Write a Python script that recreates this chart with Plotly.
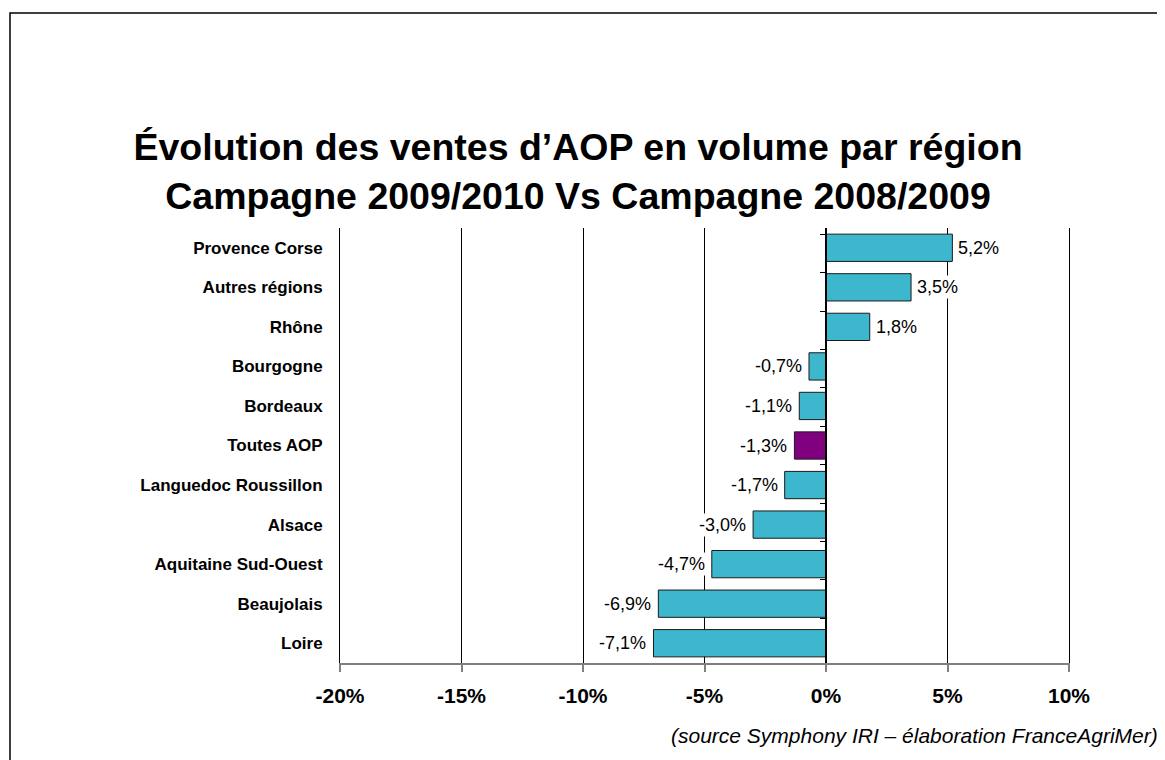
import plotly.graph_objects as go

regions = ["Provence Corse", "Autres régions", "Rhône", "Bourgogne", "Bordeaux",
           "Toutes AOP", "Languedoc Roussillon", "Alsace", "Aquitaine Sud-Ouest",
           "Beaujolais", "Loire"]
evolution = [5.2, 3.5, 1.8, -0.7, -1.1, -1.3, -1.7, -3.0, -4.7, -6.9, -7.1]
tick_values = [-20, -15, -10, -5, 0, 5, 10]
tick_labels = ["-20%", "-15%", "-10%", "-5%", "0%", "5%", "10%"]

teal = "#3DB7CE"
purple = "#800080"
colors = [purple if r == "Toutes AOP" else teal for r in regions]

FONT = "Liberation Sans, Arial, sans-serif"

# page body has an 8px margin: layout positions below are shifted to compensate
L, R, T, B = 332, 1061, 220, 655
PW, PH = R - L, B - T

fig = go.Figure()
fig.add_trace(go.Bar(
    x=evolution, y=regions, orientation="h",
    marker=dict(color=colors, line=dict(color="#1a1a1a", width=1)),
    width=0.69, hoverinfo="x+y", showlegend=False,
))
# invisible trace carrying the category axis drawn at 0%
fig.add_trace(go.Scatter(
    x=evolution, y=regions, yaxis="y2", mode="markers",
    marker=dict(opacity=0), hoverinfo="skip", showlegend=False,
))

annotations = []
for r, v in zip(regions, evolution):
    annotations.append(dict(
        x=v, y=r, xref="x", yref="y",
        text=f"{v:.1f}%".replace(".", ","),
        showarrow=False,
        xanchor="left" if v >= 0 else "right",
        xshift=4 if v >= 0 else -5,
        bgcolor="white", borderpad=1,
        font=dict(family=FONT, size=18, color="black"),
    ))

annotations.append(dict(
    text="<i>(source Symphony IRI – élaboration FranceAgriMer)</i>",
    xref="paper", yref="paper", x=(1152 - L) / PW, y=(B - 727) / PH,
    xanchor="right", yanchor="middle", showarrow=False,
    font=dict(family=FONT, size=21, color="black"),
))

fig.update_layout(
    width=1165, height=760,
    margin=dict(l=L, r=1165 - R, t=T, b=760 - B),
    paper_bgcolor="white", plot_bgcolor="white",
    title=dict(
        text="<b>Évolution des ventes d’AOP en volume par région<br>Campagne 2009/2010 Vs Campagne 2008/2009</b>",
        x=570 / 1165, xref="container", xanchor="center",
        y=1 - 152 / 760, yref="container", yanchor="middle",
        font=dict(family=FONT, size=37.5, color="black"),
    ),
    xaxis=dict(
        range=[-20, 10], tickvals=tick_values, ticktext=tick_labels,
        showgrid=True, gridcolor="black", gridwidth=1,
        zeroline=False,
        showline=True, linecolor="#808080", linewidth=2,
        ticks="outside", ticklen=7, tickcolor="#808080", tickwidth=1.5,
        tickfont=dict(family=FONT, size=21, color="black", weight="bold"),
        ticklabelstandoff=6,
        domain=[0, 1],
    ),
    yaxis=dict(
        type="category", categoryorder="array", categoryarray=regions,
        autorange="reversed", showgrid=False, zeroline=False,
        showline=True, mirror=True, linecolor="black", linewidth=1,
        ticks="",
        tickfont=dict(family=FONT, size=17, color="black", weight="bold"),
        ticklabelstandoff=13,
    ),
    yaxis2=dict(
        type="category", categoryorder="array", categoryarray=regions,
        autorange="reversed", overlaying="y", anchor="free",
        position=2 / 3, side="left",
        showline=True, linecolor="black", linewidth=1.5,
        ticks="outside", ticklen=5, tickcolor="black", tickwidth=1,
        tickson="boundaries", showticklabels=False, showgrid=False,
        zeroline=False,
    ),
    annotations=annotations,
    shapes=[dict(
        type="rect", xref="paper", yref="paper",
        x0=(2 - L) / PW, x1=(1190 - L) / PW,
        y0=(B - 790) / PH, y1=(B - 5) / PH,
        line=dict(color="black", width=1.5), fillcolor="rgba(0,0,0,0)",
        layer="below",
    )],
)

fig.write_html("out.html")
